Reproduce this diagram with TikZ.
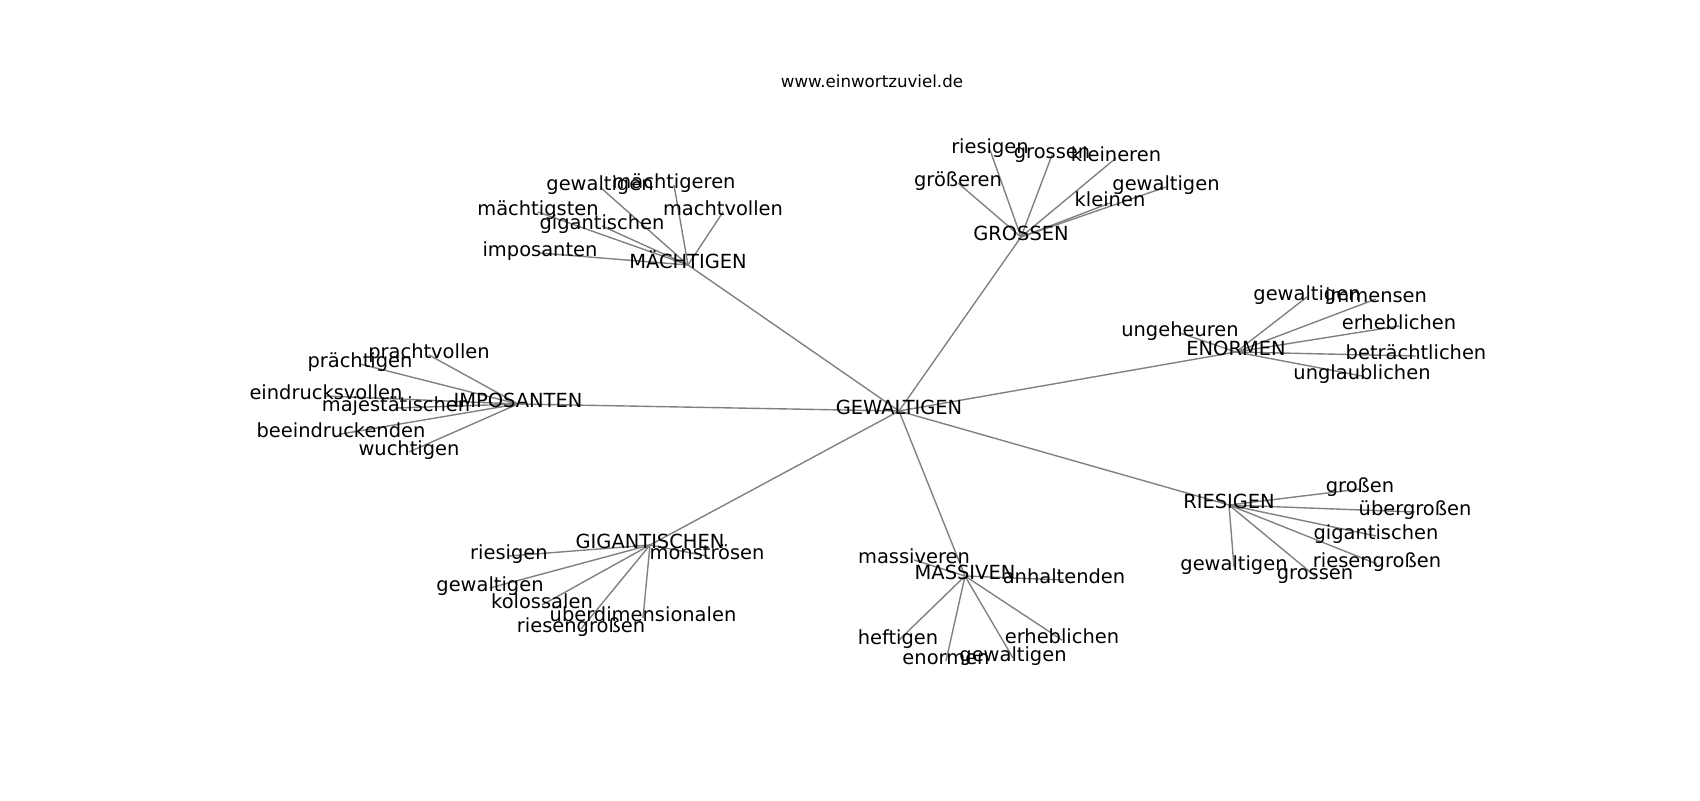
\documentclass[tikz,border=0pt]{standalone}
\usepackage{fontspec}
\setmainfont{DejaVu Sans}
\usetikzlibrary{backgrounds}
\begin{document}
\begin{tikzpicture}[x=0.72pt,y=-0.72pt,
  lbl/.style={font=\fontsize{14}{16}\selectfont, inner sep=0pt, text height=0.76em, text depth=0.24em, anchor=center},
  ttl/.style={font=\fontsize{12}{14}\selectfont, inner sep=0pt, anchor=center},
  edge/.style={draw=black!50, line width=1pt}]
\useasboundingbox (0,0) rectangle (1700,800);
\node[ttl] (title) at (872,81) {www.einwortzuviel.de};
% centre
\node[lbl] (g) at (899,411) {GEWALTIGEN};
% MAECHTIGEN
\node[lbl] (m) at (688,265) {MÄCHTIGEN};
\node[lbl] (m1) at (600,187) {gewaltigen};
\node[lbl] (m2) at (674,185) {mächtigeren};
\node[lbl] (m3) at (538,212) {mächtigsten};
\node[lbl] (m4) at (723,212) {machtvollen};
\node[lbl] (m5) at (602,226) {gigantischen};
\node[lbl] (m6) at (540,253) {imposanten};
% GROSSEN
\node[lbl] (r) at (1021,237) {GROSSEN};
\node[lbl] (r1) at (990,150) {riesigen};
\node[lbl] (r2) at (1052,155) {grossen};
\node[lbl] (r3) at (1116,158) {kleineren};
\node[lbl] (r4) at (958,183) {größeren};
\node[lbl] (r5) at (1166,187) {gewaltigen};
\node[lbl] (r6) at (1110,203) {kleinen};
% ENORMEN
\node[lbl] (e) at (1236,352) {ENORMEN};
\node[lbl] (e1) at (1307,297) {gewaltigen};
\node[lbl] (e2) at (1376,299) {immensen};
\node[lbl] (e3) at (1180,333) {ungeheuren};
\node[lbl] (e4) at (1399,326) {erheblichen};
\node[lbl] (e5) at (1416,356) {beträchtlichen};
\node[lbl] (e6) at (1362,376) {unglaublichen};
% RIESIGEN
\node[lbl] (s) at (1229,505) {RIESIGEN};
\node[lbl] (s1) at (1360,489) {großen};
\node[lbl] (s2) at (1415,512) {übergroßen};
\node[lbl] (s3) at (1376,536) {gigantischen};
\node[lbl] (s4) at (1234,567) {gewaltigen};
\node[lbl] (s5) at (1377,564) {riesengroßen};
\node[lbl] (s6) at (1315,576) {grossen};
% MASSIVEN
\node[lbl] (v) at (965,576) {MASSIVEN};
\node[lbl] (v1) at (914,560) {massiveren};
\node[lbl] (v2) at (1064,580) {anhaltenden};
\node[lbl] (v3) at (898,641) {heftigen};
\node[lbl] (v4) at (1062,640) {erheblichen};
\node[lbl] (v5) at (946,661) {enormen};
\node[lbl] (v6) at (1013,658) {gewaltigen};
% GIGANTISCHEN
\node[lbl] (t) at (650,545) {GIGANTISCHEN};
\node[lbl] (t1) at (509,556) {riesigen};
\node[lbl] (t2) at (707,556) {monströsen};
\node[lbl] (t3) at (490,588) {gewaltigen};
\node[lbl] (t4) at (542,605) {kolossalen};
\node[lbl] (t5) at (643,618) {überdimensionalen};
\node[lbl] (t6) at (581,629) {riesengroßen};
% IMPOSANTEN
\node[lbl] (i) at (518,404) {IMPOSANTEN};
\node[lbl] (i1) at (429,355) {prachtvollen};
\node[lbl] (i2) at (360,364) {prächtigen};
\node[lbl] (i3) at (326,396) {eindrucksvollen};
\node[lbl] (i4) at (396,408) {majestätischen};
\node[lbl] (i5) at (341,434) {beeindruckenden};
\node[lbl] (i6) at (409,452) {wuchtigen};
\begin{scope}[on background layer]
  \foreach \h in {m,r,e,s,v,t,i} {
    \draw[edge] (g.center) -- (\h.center);
    \foreach \k in {1,...,6} {
      \draw[edge] (\h.center) -- (\h\k.center);
    }
  }
\end{scope}
\end{tikzpicture}
\end{document}
